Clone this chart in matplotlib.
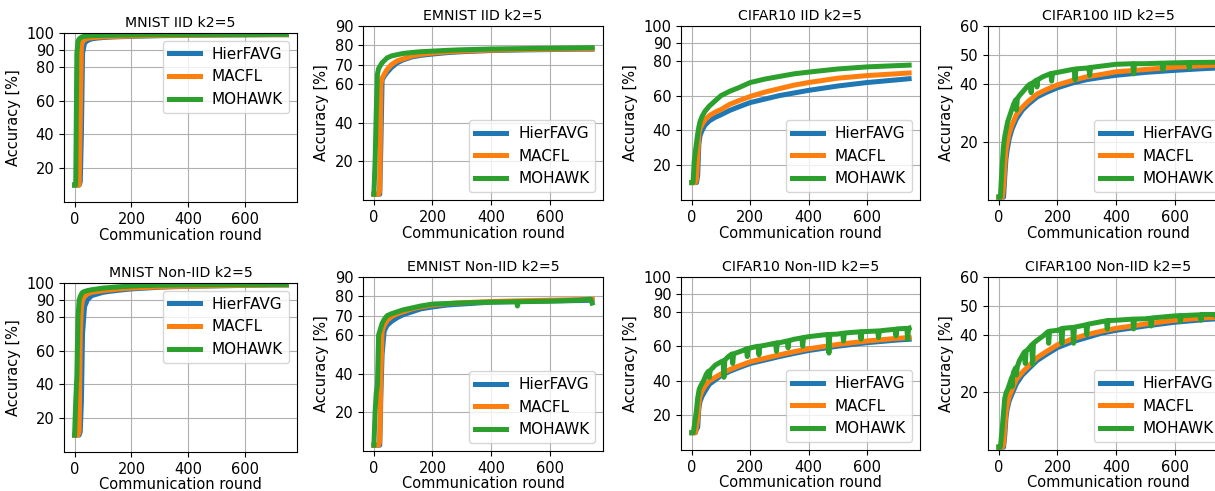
import numpy as np
import matplotlib
matplotlib.use("Agg")
import matplotlib.pyplot as plt

# communication rounds shared by the smooth curves
rounds = [0, 4, 8, 12, 16, 20, 24, 28, 35, 45, 60, 80, 100, 130, 160, 200,
          250, 300, 350, 400, 500, 600, 700, 745]

labels = ["HierFAVG", "MACFL", "MOHAWK"]
colors = ["#1f77b4", "#ff7f0e", "#2ca02c"]

# ---- MNIST IID
mnist_iid_hier = [10, 10, 10, 10, 10, 12, 40, 88, 94, 95.5, 96.5, 97, 97.3, 97.6, 97.8, 98,
                  98.2, 98.4, 98.5, 98.6, 98.8, 98.9, 99, 99]
mnist_iid_macfl = [10, 10, 10, 10, 10, 50, 92, 95, 96, 96.8, 97.2, 97.5, 97.7, 97.9, 98, 98.2,
                   98.4, 98.5, 98.6, 98.7, 98.8, 98.9, 99, 99]
mnist_iid_mohawk = [10, 10, 88, 95, 96.5, 97, 97.5, 97.8, 98, 98.2, 98.4, 98.5, 98.6, 98.7, 98.8, 98.9,
                    99, 99, 99, 99.1, 99.1, 99.1, 99.2, 99.2]

# ---- EMNIST IID
emnist_iid_hier = [3, 3, 3, 3, 3, 3, 30, 62, 64, 66, 68.5, 71, 72.5, 74, 74.8, 75.5,
                   76.2, 76.7, 77, 77.3, 77.6, 77.8, 78, 78]
emnist_iid_macfl = [3, 3, 3, 3, 3, 5, 60, 63, 65, 67.5, 70, 72, 73, 74.5, 75.3, 76,
                    76.6, 77, 77.3, 77.5, 77.8, 78, 78.2, 78.2]
emnist_iid_mohawk = [3, 20, 45, 65, 68, 69, 70, 71, 72, 73.5, 74.5, 75.2, 75.8, 76.3, 76.7, 77,
                     77.4, 77.7, 77.9, 78.1, 78.3, 78.5, 78.7, 78.8]

# ---- CIFAR10 IID
cifar10_iid_hier = [10, 10, 10, 10, 10, 14, 32, 37, 40, 43, 45.5, 47.5, 49, 51.5, 53.5, 56,
                    58, 60, 61.5, 63, 65.5, 67.5, 69, 69.7]
cifar10_iid_macfl = [10, 10, 10, 10, 12, 25, 38, 41, 43.5, 46, 48.5, 50.5, 52, 55, 57, 59.5,
                     62, 64, 66, 67.5, 70, 71.5, 72.5, 73]
cifar10_iid_mohawk = [10, 10, 22, 28, 33, 38, 42, 45, 48, 51, 54, 57, 60, 62.5, 64.5, 67.5,
                      69.5, 71, 72.5, 73.5, 75.3, 76.5, 77.2, 77.5]

# ---- CIFAR100 IID
cifar100_iid_hier = [1, 1, 1, 1, 1, 8, 14, 17, 21, 24.5, 28, 31, 33, 35.5, 37, 38.7,
                     40.3, 41.5, 42.3, 43, 44, 44.7, 45.3, 45.5]
cifar100_iid_macfl = [1, 1, 1, 1, 5, 12, 17, 19.5, 23, 26, 29.5, 32, 34, 36.5, 38, 39.7,
                      41.2, 42.5, 43.3, 44.2, 45, 45.8, 46.3, 46.5]
cifar100_iid_mohawk_x = [0, 5, 10, 15, 20, 30, 40, 50, 57, 60, 63, 70, 100, 107, 110, 113, 127, 130,
                         133, 150, 177, 180, 183, 200, 250, 257, 260, 263, 300, 307, 310, 313, 400,
                         457, 460, 463, 500, 557, 560, 563, 600, 647, 650, 653, 745]
cifar100_iid_mohawk = [1, 1, 10, 18, 22, 27, 30, 33, 34.5, 31, 35, 36, 39.5, 40, 37, 40.2, 41.3, 39,
                       41.5, 42.5, 43.6, 41, 43.7, 44, 45, 45.1, 41.5, 45.2, 45.5, 45.6, 43, 45.7, 46.8,
                       47, 43.5, 47, 47, 47.2, 45, 47.2, 47.3, 47.4, 45.5, 47.4, 47.5]

# ---- MNIST Non-IID
mnist_non_hier = [10, 10, 10, 10, 10, 12, 30, 70, 86, 90, 92.5, 93.5, 94.5, 95.2, 95.8, 96.5,
                  97, 97.5, 97.8, 98, 98.3, 98.6, 98.8, 98.8]
mnist_non_macfl = [10, 10, 10, 10, 12, 70, 85, 90, 92, 93.5, 94.5, 95, 95.5, 96, 96.5, 97,
                   97.4, 97.7, 98, 98.1, 98.4, 98.6, 98.8, 98.8]
mnist_non_mohawk = [10, 30, 45, 80, 90, 92, 93.5, 94.5, 95, 95.5, 96, 96.5, 97, 97.4, 97.8, 98.2,
                    98.5, 98.7, 98.8, 98.9, 99, 99, 99.1, 99.1]

# ---- EMNIST Non-IID
emnist_non_hier = [3, 3, 3, 3, 3, 3, 30, 50, 62, 65, 67, 69, 70.5, 72, 73.5, 74.5,
                   75.5, 76, 76.5, 77, 77.3, 77.6, 77.8, 78]
emnist_non_macfl = [3, 3, 3, 3, 3, 5, 40, 62, 65, 67.5, 69.5, 71, 72, 73.5, 74.5, 75.5,
                    76.2, 76.7, 77, 77.3, 77.7, 78, 78.3, 78.5]
emnist_non_mohawk_x = [0, 4, 8, 12, 16, 20, 24, 28, 35, 45, 60, 80, 100, 130, 160, 200, 250, 300,
                       350, 400, 487, 490, 493, 600, 700, 740, 745]
emnist_non_mohawk = [3, 20, 30, 34, 60, 62, 64, 66, 68, 70, 71, 72, 73, 74, 75, 76, 76.3, 76.6,
                     76.8, 77, 77.2, 75, 77.2, 77.5, 78, 78.5, 76.5]

# ---- CIFAR10 Non-IID
cifar10_non_hier = [10, 10, 10, 10, 12, 13, 24, 28, 31, 34, 38, 40.5, 43, 45.5, 47.5, 50,
                    52, 54, 55.8, 57.5, 60, 62, 63.5, 64]
cifar10_non_macfl = [10, 10, 10, 10, 14, 18, 27, 31, 34, 37, 40, 42, 44, 46.5, 48.5, 51,
                     53, 55, 56.8, 58.5, 61, 63, 64.5, 65]
cifar10_non_mohawk_x = [0, 5, 10, 15, 20, 25, 30, 40, 50, 57, 60, 63, 80, 100, 107, 110, 113, 125,
                        137, 140, 143, 150, 175, 187, 190, 193, 200, 227, 230, 233, 250, 287, 290,
                        293, 300, 327, 330, 333, 350, 377, 380, 383, 400, 450, 467, 470, 473, 500,
                        517, 520, 523, 550, 577, 580, 583, 600, 637, 640, 643, 650, 697, 700, 703,
                        737, 740, 743, 745]
cifar10_non_mohawk = [10, 10, 16, 22, 30, 35, 37, 40, 44, 45.5, 42, 46, 49, 51, 51.5, 42, 52, 54,
                      55.5, 50, 55.5, 56, 57.5, 58.5, 54, 58.5, 59, 60, 55, 60, 60.5, 61.8, 57,
                      62, 62, 63, 59, 63.2, 64, 64.8, 60, 65, 65.5, 66.5, 66.8, 56, 66.8, 67,
                      67.5, 63, 67.6, 68, 68.3, 64, 68.4, 68.5, 68.8, 65, 68.8, 69, 69.8, 66, 70,
                      70.3, 64, 70.4, 70.5]

# ---- CIFAR100 Non-IID
cifar100_non_hier = [1, 1, 1, 1, 1, 5, 11, 14, 17, 19.5, 23, 26, 28, 31, 33, 35.5,
                     37.5, 39, 40.5, 41.5, 43, 44.3, 45.2, 45.5]
cifar100_non_macfl = [1, 1, 1, 1, 2, 8, 13, 15.5, 18.5, 21, 24.5, 27, 29, 32, 34, 36.5,
                      38.5, 40, 41.2, 42.2, 43.7, 45, 45.8, 46]
cifar100_non_mohawk_x = [0, 5, 10, 15, 20, 25, 30, 40, 43, 45, 47, 50, 57, 60, 63, 70, 87, 90, 93,
                         100, 112, 115, 118, 130, 150, 167, 170, 173, 200, 212, 215, 218, 250, 252,
                         255, 258, 297, 300, 303, 350, 367, 370, 373, 400, 457, 460, 463, 500, 517,
                         520, 523, 600, 617, 620, 623, 687, 690, 693, 740, 745]
cifar100_non_mohawk = [1, 1, 6, 12, 18, 20, 21, 24, 25, 22, 25.5, 27, 28.5, 26, 29, 31, 34, 30,
                       34.3, 35, 36.5, 29.7, 37, 38, 39.5, 41, 37, 41.2, 41.5, 42, 37, 42.2, 42.5,
                       42.5, 37, 42.6, 43.4, 40, 43.6, 44.5, 44.8, 42, 44.9, 45, 45.4, 42, 45.4,
                       45.5, 45.7, 43, 45.8, 46.5, 46.6, 44.5, 46.6, 46.9, 45, 47, 47, 45.5]

panels = [
    ("MNIST IID k2=5", [mnist_iid_hier, mnist_iid_macfl, (rounds, mnist_iid_mohawk)],
     (0, 100), [20, 40, 60, 80, 90, 100], "upper right"),
    ("EMNIST IID k2=5", [emnist_iid_hier, emnist_iid_macfl, (rounds, emnist_iid_mohawk)],
     (0, 90), [20, 40, 60, 70, 80, 90], "lower right"),
    ("CIFAR10 IID k2=5", [cifar10_iid_hier, cifar10_iid_macfl, (rounds, cifar10_iid_mohawk)],
     (0, 100), [20, 40, 60, 80, 90, 100], "lower right"),
    ("CIFAR100 IID k2=5", [cifar100_iid_hier, cifar100_iid_macfl,
                           (cifar100_iid_mohawk_x, cifar100_iid_mohawk)],
     (0, 60), [20, 40, 50, 60], "lower right"),
    ("MNIST Non-IID k2=5", [mnist_non_hier, mnist_non_macfl, (rounds, mnist_non_mohawk)],
     (0, 100), [20, 40, 60, 80, 90, 100], "upper right"),
    ("EMNIST Non-IID k2=5", [emnist_non_hier, emnist_non_macfl,
                             (emnist_non_mohawk_x, emnist_non_mohawk)],
     (0, 90), [20, 40, 60, 70, 80, 90], "lower right"),
    ("CIFAR10 Non-IID k2=5", [cifar10_non_hier, cifar10_non_macfl,
                              (cifar10_non_mohawk_x, cifar10_non_mohawk)],
     (0, 100), [20, 40, 60, 80, 90, 100], "lower right"),
    ("CIFAR100 Non-IID k2=5", [cifar100_non_hier, cifar100_non_macfl,
                               (cifar100_non_mohawk_x, cifar100_non_mohawk)],
     (0, 60), [20, 40, 50, 60], "lower right"),
]

# axes boxes in pixels: left, top, width, height (the last column runs past the edge)
W, H = 1215, 491
boxes = [(64, 33, 233, 169), (363, 26, 240, 174), (681, 26, 239, 174), (988, 26, 240, 174),
         (64, 283, 233, 169), (363, 277, 240, 174), (681, 277, 239, 173), (988, 277, 240, 173)]

fig = plt.figure(figsize=(W / 100, H / 100), dpi=100)

for i, ((title, series, ylim, yticks, loc), (l, t, w, h)) in enumerate(zip(panels, boxes)):
    ax = fig.add_axes([l / W, 1 - (t + h) / H, w / W, h / H])
    for s, lab, c in zip(series, labels, colors):
        if isinstance(s, tuple):
            x, y = s
        else:
            x, y = rounds, s
        ax.plot(x, y, color=c, lw=3.6, label=lab)
    ax.set_ylim(*ylim)
    ax.set_yticks(yticks)
    ax.set_xticks([0, 200, 400, 600])
    ax.tick_params(labelsize=10.5)
    ax.grid(True)
    ax.set_title(title, fontsize=10.2, pad=4)
    ax.set_xlabel("Communication round", fontsize=10.5, labelpad=0 if i >= 4 else 1)
    ax.set_ylabel("Accuracy [%]", fontsize=10.5)
    ax.legend(loc=loc, fontsize=11)

fig.savefig("out.png", dpi=100)
